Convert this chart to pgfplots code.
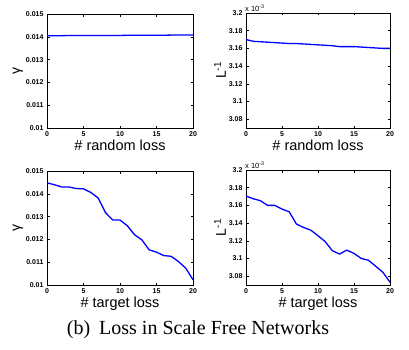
\documentclass[border=0pt]{standalone}
\usepackage{pgfplots}
\pgfplotsset{compat=1.18}
\usepackage{fontspec}
\setmainfont{Liberation Serif}
\newfontfamily\arial{Liberation Sans}
\definecolor{mblue}{RGB}{20,20,250}
\pgfplotsset{
  mstyle/.style={
    scale only axis,
    axis line style={line width=0.8pt},
    tick style={line width=0.5pt,black},
    major tick length=2.5pt,
    tick align=inside,
    xtick pos=both, ytick pos=both,
    xmin=0, xmax=20, xtick={0,5,10,15,20},
    tick label style={font=\arial\bfseries\fontsize{7}{8}\selectfont},
    /pgf/number format/assume math mode=true,
    xlabel style={font=\arial\fontsize{14.5}{16}\selectfont, yshift=3pt},
    ylabel style={font=\arial\fontsize{14}{16}\selectfont, yshift=-4pt},
    scaled y ticks=false,
    every axis plot/.append style={mblue, line width=1.3pt, no markers},
  },
  gstyle/.style={mstyle, ymin=0.01, ymax=0.015,
    ytick={0.01,0.011,0.012,0.013,0.014,0.015},
    yticklabels={0.01,0.011,0.012,0.013,0.014,0.015},
    width=146pt, height=114pt, ylabel={γ}},
  lstyle/.style={mstyle, ymin=3.07, ymax=3.2,
    ytick={3.08,3.1,3.12,3.14,3.16,3.18,3.2},
    yticklabels={3.08,3.1,3.12,3.14,3.16,3.18,3.2},
    width=144pt, height=115pt, ylabel={L\textsuperscript{-1}}},
}
\begin{document}
\begin{tikzpicture}
\useasboundingbox (0pt,0pt) rectangle (409pt,-350pt);
\begin{axis}[gstyle, at={(47pt,-128pt)}, anchor=south west, xlabel={\# random loss}]
\addplot coordinates {(0,0.01405) (2,0.01405) (4,0.01406) (6,0.01406) (8,0.01406) (10,0.01406) (12,0.01407) (14,0.01407) (16,0.01407) (18,0.01408) (20,0.01408)};
\end{axis}
\begin{axis}[lstyle, at={(246pt,-128pt)}, anchor=south west, xlabel={\# random loss}]
\addplot coordinates {(0,3.170) (1,3.168) (2,3.1675) (3,3.167) (4,3.1665) (5,3.166) (6,3.1655) (7,3.1655) (8,3.165) (9,3.1645) (10,3.164) (11,3.1635) (12,3.163) (13,3.162) (14,3.162) (15,3.162) (16,3.1615) (17,3.161) (18,3.1605) (19,3.160) (20,3.160)};
\end{axis}
\node[anchor=west, font=\arial\fontsize{7.5}{8}\selectfont, inner sep=0] at (245pt,-8pt) {x 10\textsuperscript{-3}};
\begin{axis}[gstyle, at={(47pt,-285pt)}, anchor=south west, xlabel={\# target loss}]
\addplot coordinates {(0,0.01448) (1,0.01440) (2,0.01430) (3,0.01430) (4,0.01423) (5,0.01422) (6,0.01406) (7,0.01382) (8,0.01318) (9,0.01285) (10,0.01285) (11,0.01260) (12,0.01220) (13,0.01198) (14,0.01154) (15,0.01144) (16,0.01129) (17,0.01126) (18,0.01103) (19,0.01074) (20,0.01023)};
\end{axis}
\begin{axis}[lstyle, at={(246pt,-285pt)}, anchor=south west, xlabel={\# target loss}]
\addplot coordinates {(0,3.1706) (1,3.1675) (2,3.1653) (3,3.160) (4,3.160) (5,3.1558) (6,3.1528) (7,3.1389) (8,3.135) (9,3.132) (10,3.1257) (11,3.119) (12,3.1087) (13,3.105) (14,3.1094) (15,3.1057) (16,3.100) (17,3.098) (18,3.0913) (19,3.0845) (20,3.0732)};
\end{axis}
\node[anchor=west, font=\arial\fontsize{7.5}{8}\selectfont, inner sep=0] at (245pt,-165pt) {x 10\textsuperscript{-3}};
\node[anchor=base, font=\fontsize{20}{22}\selectfont, inner sep=0] at (198pt,-334pt) {(b)\hspace{0.45em}Loss in Scale Free Networks};
\end{tikzpicture}
\end{document}
